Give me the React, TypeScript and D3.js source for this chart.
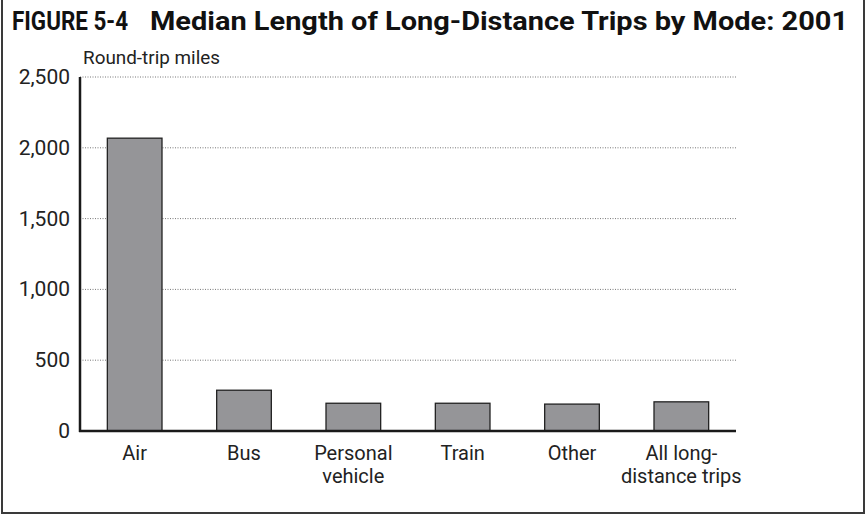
import { useEffect, useRef } from 'react';
import * as d3 from 'd3';

const categories = ['Air', 'Bus', 'Personal vehicle', 'Train', 'Other', 'All long-distance trips'];
// label lines as printed under each bar
const categoryLines = [['Air'], ['Bus'], ['Personal', 'vehicle'], ['Train'], ['Other'], ['All long-', 'distance trips']];
const medianMiles = [2068, 288, 196, 196, 190, 206];
const yTicks = [0, 500, 1000, 1500, 2000, 2500];

const W = 865;
const H = 519;
const FONT = "'Roboto', 'Liberation Sans', sans-serif";

export default function App() {
  const svgRef = useRef<SVGSVGElement>(null);

  useEffect(() => {
    if (!svgRef.current) return;
    const svg = d3.select(svgRef.current);
    svg.selectAll('*').remove();

    const margin = { top: 77, right: 129, bottom: 88, left: 80 };
    const innerW = W - margin.left - margin.right;
    const innerH = H - margin.top - margin.bottom;

    // frame (open at top)
    svg.append('path')
      .attr('d', `M2,0 V513 H864 V0`)
      .attr('fill', 'none')
      .attr('stroke', '#3a3a3a')
      .attr('stroke-width', 2);

    // title, squeezed to the condensed width of the original
    const title = svg.append('text')
      .attr('y', 30)
      .attr('font-family', FONT)
      .attr('font-weight', 'bold')
      .attr('font-size', 26)
      .attr('fill', '#111');
    title.append('tspan')
      .attr('x', 12)
      .attr('textLength', 116)
      .attr('lengthAdjust', 'spacingAndGlyphs')
      .text('FIGURE 5-4');
    title.append('tspan')
      .attr('x', 150)
      .attr('textLength', 698)
      .attr('lengthAdjust', 'spacingAndGlyphs')
      .text('Median Length of Long-Distance Trips by Mode: 2001');

    const g = svg.append('g').attr('transform', `translate(${margin.left},${margin.top})`);

    const x = d3.scaleBand<string>()
      .domain(categories)
      .range([0, innerW])
      .paddingInner(0.5)
      .paddingOuter(0.25);

    const y = d3.scaleLinear().domain([0, 2500]).range([innerH, 0]);

    // unit label
    g.append('text')
      .attr('x', 3)
      .attr('y', -13)
      .attr('font-family', FONT)
      .attr('font-size', 19)
      .attr('fill', '#222')
      .attr('textLength', 137)
      .attr('lengthAdjust', 'spacingAndGlyphs')
      .text('Round-trip miles');

    // dotted gridlines
    g.selectAll('.grid')
      .data(yTicks.filter((t) => t > 0))
      .join('line')
      .attr('x1', 0)
      .attr('x2', innerW + 1)
      .attr('y1', (d) => y(d))
      .attr('y2', (d) => y(d))
      .attr('stroke', '#777')
      .attr('stroke-width', 1)
      .attr('stroke-dasharray', '1,1.5');

    // tick labels
    g.selectAll('.ytick')
      .data(yTicks)
      .join('text')
      .attr('x', -10)
      .attr('y', (d) => y(d) + 7)
      .attr('text-anchor', 'end')
      .attr('font-family', FONT)
      .attr('font-size', 21)
      .attr('fill', '#222')
      .text((d) => d3.format(',')(d));

    // bars
    g.selectAll('.bar')
      .data(medianMiles)
      .join('rect')
      .attr('x', (_, i) => x(categories[i]) || 0)
      .attr('y', (d) => y(d))
      .attr('width', x.bandwidth())
      .attr('height', (d) => innerH - y(d))
      .attr('fill', '#959598')
      .attr('stroke', '#222')
      .attr('stroke-width', 1.3);

    // axes lines
    g.append('line')
      .attr('x1', 0).attr('x2', 0)
      .attr('y1', 0).attr('y2', innerH + 1)
      .attr('stroke', '#1a1a1a')
      .attr('stroke-width', 2.5);
    g.append('line')
      .attr('x1', -1).attr('x2', innerW)
      .attr('y1', innerH).attr('y2', innerH)
      .attr('stroke', '#1a1a1a')
      .attr('stroke-width', 2.5);

    // category labels
    categories.forEach((c, i) => {
      const t = g.append('text')
        .attr('text-anchor', 'middle')
        .attr('font-family', FONT)
        .attr('font-size', 20)
        .attr('fill', '#222');
      categoryLines[i].forEach((line, j) => {
        t.append('tspan')
          .attr('x', (x(c) || 0) + x.bandwidth() / 2)
          .attr('y', innerH + 29 + j * 23)
          .text(line);
      });
    });
  }, []);

  return (
    <svg
      ref={svgRef}
      width={W}
      height={H}
      style={{ position: 'absolute', left: 0, top: 0, background: '#fff' }}
    />
  );
}
